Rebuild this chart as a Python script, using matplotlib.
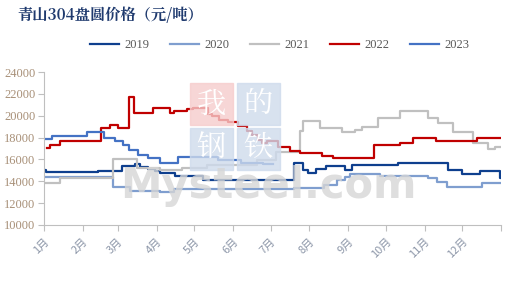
import matplotlib
matplotlib.use("Agg")
import matplotlib.pyplot as plt
from matplotlib.patches import Rectangle

# 青山304盘圆价格，数据按年内天数记录（价格变动点，之后保持不变）
jours_2019 = [0, 1.6, 43, 62, 73, 77, 83, 89, 93, 104.6, 127, 199.7, 207, 211, 217, 225, 240, 246, 283, 323, 334, 348, 364, 365]
prix_2019 = [15050, 14850, 14950, 15400, 15600, 15350, 15100, 14900, 14750, 14450, 14150, 15700, 15050, 14750, 15100, 15400, 15050, 15500, 15700, 15050, 14700, 14900, 14300, 14300]

jours_2020 = [0, 55.5, 68.7, 92.7, 104, 200, 224, 234, 240, 244, 268, 307, 314, 322, 350, 365]
prix_2020 = [14350, 13500, 13100, 13050, 13250, 13350, 13700, 14100, 14400, 14700, 14450, 14300, 13950, 13500, 13850, 13850]

jours_2021 = [0, 12.8, 55.5, 74.3, 93, 110, 130, 170, 185, 204.5, 207, 220.4, 238, 248.4, 254, 266.8, 284, 306.7, 315, 326.7, 342.7, 354.6, 360, 366]
prix_2021 = [13800, 14300, 16000, 15200, 15000, 15200, 15500, 15950, 16650, 18600, 19500, 18900, 18550, 18700, 18950, 19800, 20400, 19800, 19350, 18550, 17500, 17000, 17100, 17100]

jours_2022 = [2.4, 4.8, 12.8, 45.5, 52.7, 59, 67.5, 72, 87, 101, 104, 114, 119, 131, 134, 140, 147, 155, 162, 166, 171, 174, 178, 187, 196.5, 204.5, 222, 231, 263.6, 284, 295, 313, 346, 366]
prix_2022 = [17050, 17300, 17700, 18900, 19150, 18900, 21750, 20250, 20700, 20250, 20450, 20600, 20700, 20200, 19950, 19600, 19450, 19050, 18600, 18250, 17800, 17500, 17650, 17100, 16750, 16600, 16300, 16150, 17300, 17500, 18000, 17650, 17950, 17950]

jours_2023 = [0, 6, 34, 48, 57, 63, 68, 75, 83, 93, 107, 139, 157, 175, 183]
prix_2023 = [17900, 18150, 18550, 17950, 17650, 17350, 16850, 16400, 16100, 15700, 16200, 15950, 15700, 15580, 15580]

annees = ["2019", "2020", "2021", "2022", "2023"]
couleurs = ["#0e3f8e", "#7f9ecf", "#c0c0c0", "#c00000", "#4472c4"]

debut_mois = [0, 31, 59, 90, 120, 151, 181, 212, 243, 273, 304, 334, 365]
noms_mois = ["1月", "2月", "3月", "4月", "5月", "6月", "7月", "8月", "9月", "10月", "11月", "12月", ""]

plt.rcParams['font.family'] = ['Liberation Serif', 'Noto Sans CJK SC']

fig = plt.figure(figsize=(5.22, 2.95), dpi=100)
ax = fig.add_axes([0.0843, 0.2373, 0.8755, 0.5186])

# filigrane "我的钢铁 Mysteel.com"
fig.patches.append(Rectangle((190/522, 1-125/295), 43/522, 42/295, transform=fig.transFigure,
                             color="#f6cccc", alpha=0.8, zorder=0))
for (x0, y0) in [(237, 125), (190, 170), (237, 170)]:
    fig.patches.append(Rectangle((x0/522, 1-y0/295), 43/522, 42/295, transform=fig.transFigure,
                                 color="#cfdbec", alpha=0.8, zorder=0))
for car, (cx, cy) in zip("我的钢铁", [(211, 104), (258, 104), (211, 148), (258, 148)]):
    fig.text(cx/522, 1-cy/295, car, color="white", fontsize=21, ha="center", va="center",
             family=['Noto Serif CJK SC', 'Noto Sans CJK SC'], zorder=0)
fig.text(268/522, 1-186/295, "Mysteel.com", color="#d6d6d6", fontsize=30, fontweight="bold",
         ha="center", va="center", family=['DejaVu Sans'], alpha=0.8, zorder=0)
ax.patch.set_alpha(0)

series = [(jours_2019, prix_2019), (jours_2020, prix_2020), (jours_2021, prix_2021),
          (jours_2022, prix_2022), (jours_2023, prix_2023)]
for (j, p), an, c in zip(series, annees, couleurs):
    ax.plot(j, p, drawstyle="steps-post", color=c, lw=1.6, label=an)

ax.set_xlim(0, 365)
ax.set_ylim(10000, 24000)
ax.set_yticks(range(10000, 24001, 2000))
ax.set_xticks(debut_mois)
ax.set_xticklabels(noms_mois, fontsize=8, family=['Noto Sans CJK SC'])
ax.tick_params(axis="y", labelsize=9, colors="#a89078", length=4, color="#bfbfbf", pad=2)
ax.tick_params(axis="x", length=4, color="#bfbfbf", pad=4, labelcolor="#8c96a8")
for lab in ax.get_xticklabels():
    lab.set_rotation(45)
    lab.set_ha("right")
    lab.set_rotation_mode("anchor")
for s in ["top", "right"]:
    ax.spines[s].set_visible(False)
for s in ["left", "bottom"]:
    ax.spines[s].set_color("#bfbfbf")

ax.legend(loc="center", bbox_to_anchor=(0.516, 1.176), ncol=5, frameon=False, fontsize=9,
          handlelength=2.25, columnspacing=1.7, handletextpad=0.45, labelcolor="#595959")

fig.text(17/522, 1-15/295, "青山304盘圆价格（元/吨）", color="#1f3a6e", fontsize=11,
         fontweight="bold", ha="left", va="center", family=['Noto Serif CJK SC', 'Noto Sans CJK SC'])

fig.savefig("out.png", dpi=100)
